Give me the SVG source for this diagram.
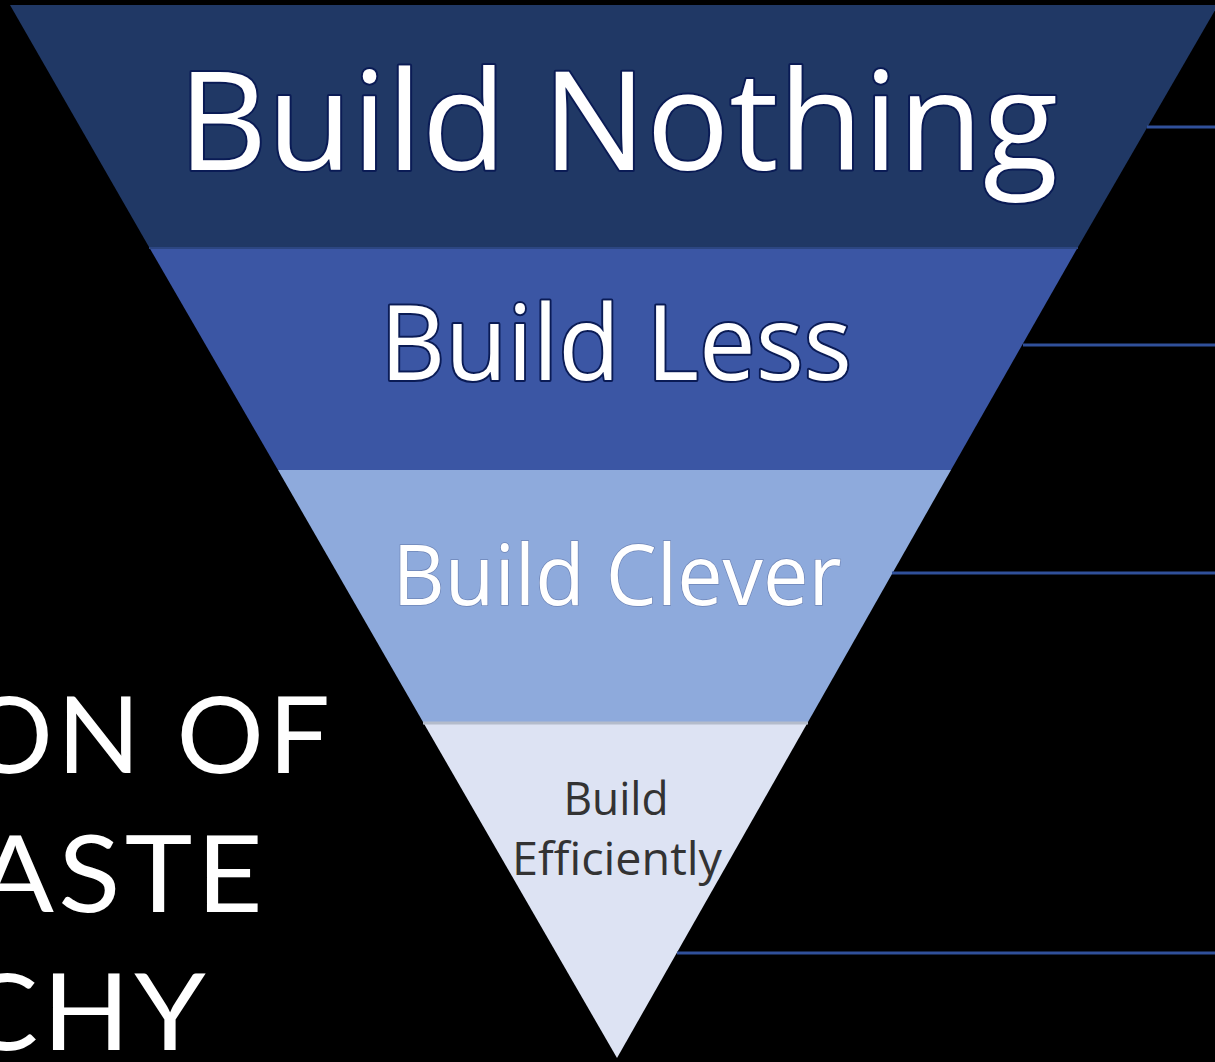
<svg xmlns="http://www.w3.org/2000/svg" width="1215" height="1062" viewBox="0 0 1215 1062">
<style>
.lbl{font-family:"Open Sans","Noto Sans","Liberation Sans",sans-serif;text-anchor:middle}
.big{fill:#ffffff;stroke:#0a1b55;stroke-width:4;paint-order:stroke;stroke-linejoin:round}
.side{font-family:Lato,"Liberation Sans",sans-serif;fill:#ffffff;font-size:106px;text-anchor:end;letter-spacing:4px}
.conn{stroke:#30509a;stroke-width:3;fill:none}
</style>
<rect x="0" y="0" width="1215" height="1062" fill="#000000"/>
<g id="band-nothing">
<polygon points="10,5 1218,5 1078,247 149,247" fill="#203865"/>
<text class="lbl big" x="618" y="170" font-size="137" textLength="880" lengthAdjust="spacingAndGlyphs">Build Nothing</text>
</g>
<g id="band-less">
<polygon points="149,247 1078,247 951,470 278,470" fill="#3b56a4"/>
<line x1="149" y1="248" x2="1078" y2="248" stroke="#2c4682" stroke-width="2"/>
<text class="lbl big" x="616" y="380" font-size="105" textLength="472" lengthAdjust="spacingAndGlyphs">Build Less</text>
</g>
<g id="band-clever">
<polygon points="278,470 951,470 808,722 423,722" fill="#8eaadc"/>
<text class="lbl" x="617" y="605" font-size="84" fill="#ffffff" stroke="#6f86b8" stroke-width="1.5" paint-order="stroke" textLength="449" lengthAdjust="spacingAndGlyphs">Build Clever</text>
</g>
<g id="band-efficiently">
<polygon points="423,722 808,722 617,1058" fill="#dde3f3"/>
<line x1="423" y1="723" x2="808" y2="723" stroke="#b4bccb" stroke-width="3"/>
<text class="lbl" x="616" y="815" font-size="46" fill="#333333" textLength="105" lengthAdjust="spacingAndGlyphs">Build</text>
<text class="lbl" x="617" y="875" font-size="46" fill="#333333" textLength="210" lengthAdjust="spacingAndGlyphs">Efficiently</text>
</g>
<g id="title">
<text class="side" transform="translate(334,773) scale(1.03,1)">ON OF</text>
<text class="side" transform="translate(267,912) scale(1.08,1)">ASTE</text>
<text class="side" transform="translate(210,1050) scale(1.08,1)">CHY</text>
</g>
<g id="connectors">
<line class="conn" x1="1147" y1="127" x2="1215" y2="127"/>
<line class="conn" x1="1023" y1="345" x2="1215" y2="345"/>
<line class="conn" x1="892" y1="573" x2="1215" y2="573"/>
<line class="conn" x1="677" y1="953" x2="1215" y2="953"/>
</g>
</svg>
